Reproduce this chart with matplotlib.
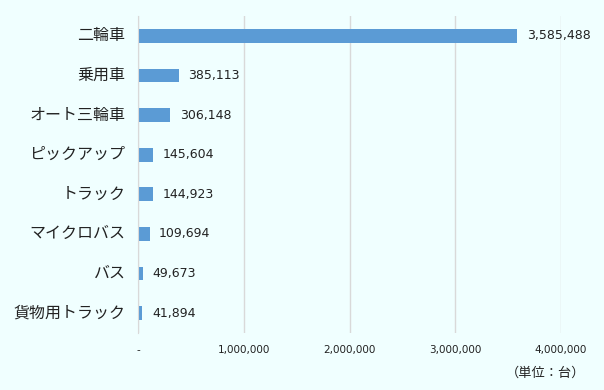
import matplotlib
matplotlib.use("Agg")
import matplotlib.pyplot as plt
from matplotlib.ticker import FuncFormatter

plt.rcParams['font.family'] = ['Noto Sans CJK JP', 'DejaVu Sans']

categories = ["二輪車", "乗用車", "オート三輪車", "ピックアップ", "トラック", "マイクロバス", "バス", "貨物用トラック"]
values = [3585488, 385113, 306148, 145604, 144923, 109694, 49673, 41894]
xticks = [0, 1000000, 2000000, 3000000, 4000000]

bg = "#F0FFFF"
txt = "#222222"
fig = plt.figure(figsize=(6.04, 3.9), dpi=100, facecolor=bg)
ax = fig.add_axes([138/604, 1-333/390, (561-138)/604, (333-16)/390], facecolor=bg)

y = list(range(len(categories)))
ax.barh(y, values, height=0.35, color="#5B9BD5", zorder=3)
ax.set_ylim(len(categories)-0.5, -0.5)
ax.set_xlim(0, 4000000)
ax.set_yticks(y)
ax.set_yticklabels(categories, fontsize=11.5, color=txt, va='center')
ax.set_xticks(xticks)
ax.xaxis.set_major_formatter(FuncFormatter(lambda v, p: "-" if v == 0 else f"{int(v):,}"))
ax.tick_params(axis='x', length=0, labelsize=7.5, colors=txt, pad=9)
for lbl in ax.get_xticklabels():
    lbl.set_family('DejaVu Sans')
ax.tick_params(axis='y', length=0, pad=9)
ax.grid(axis='x', color="#D9D9D9", linewidth=1, zorder=0)
for s in ["top", "right", "bottom"]:
    ax.spines[s].set_visible(False)
ax.spines["left"].set_color("#D9D9D9")
ax.spines["left"].set_zorder(4)

for yi, v in zip(y, values):
    ax.text(v + 90000, yi, f"{v:,}", va='center', ha='left', fontsize=9, color=txt,
            family='DejaVu Sans')

fig.text(546/604, 1-373/390, "（単位：台）", ha='center', va='center', fontsize=9.5, color=txt)

fig.savefig("out.png", dpi=100, facecolor=bg)
